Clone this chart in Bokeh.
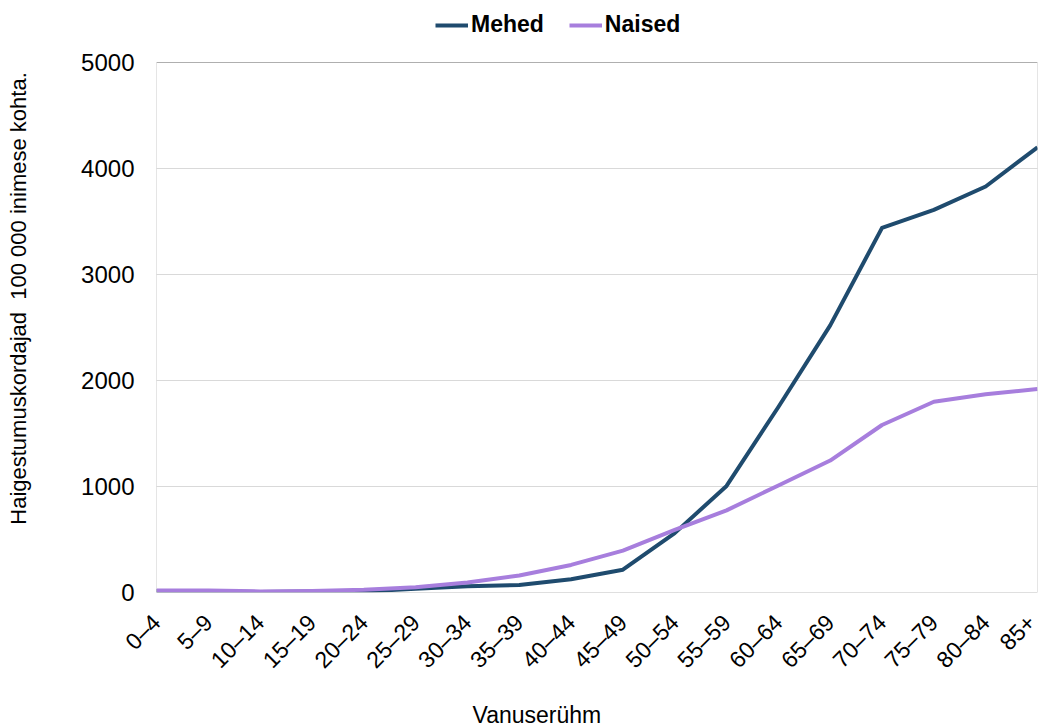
import math
from bokeh.plotting import figure
from bokeh.models import (Range1d, FixedTicker, Legend, LegendItem, Title,
                          BoxAnnotation, Span)
from bokeh.embed import file_html
from bokeh.resources import INLINE

categories = ["0–4", "5–9", "10–14", "15–19", "20–24", "25–29", "30–34", "35–39",
              "40–44", "45–49", "50–54", "55–59", "60–64", "65–69", "70–74",
              "75–79", "80–84", "85+"]
mehed = [15, 12, 5, 10, 10, 35, 60, 70, 125, 215, 560, 1005, 1750, 2520, 3440, 3610, 3830, 4200]
naised = [20, 18, 10, 15, 25, 50, 95, 160, 260, 395, 590, 775, 1010, 1245, 1580, 1800, 1870, 1920]
y_ticks = [0, 1000, 2000, 3000, 4000, 5000]
y_max = 5000

FONT = "Liberation Sans"
C_M = "#1F4B6E"
C_N = "#A77EDD"

xs = list(range(len(categories)))

W, H = 1040, 727
FL, FR, FT, FB = 156, 1037, 4, 592
AXIS_TOP = 62  # screen y of value y_max
y_top = y_max * (FB - FT) / (FB - AXIS_TOP)

p = figure(width=W, height=H, output_backend="svg", toolbar_location=None,
           x_range=Range1d(0, len(categories) - 1), y_range=Range1d(0, y_top),
           min_border_left=FL, min_border_right=W - FR, min_border_top=FT,
           min_border_bottom=H - FB)

r_m = p.line(xs, mehed, line_color=C_M, line_width=4, line_join="round")
r_n = p.line(xs, naised, line_color=C_N, line_width=4, line_join="round")

p.outline_line_color = None
p.background_fill_color = "white"
p.border_fill_color = "white"

p.xgrid.grid_line_color = None
p.ygrid.ticker = FixedTicker(ticks=y_ticks)
p.ygrid.grid_line_color = "#D9D9D9"
p.ygrid.grid_line_width = 1

# plot-area frame (0..y_max) and light zero line
p.add_layout(BoxAnnotation(left=0, right=len(categories) - 1, bottom=0, top=y_max,
                           fill_alpha=0, line_color="#505050", line_width=1))
p.add_layout(Span(location=0, dimension="width", line_color="#D9D9D9", line_width=1))

p.yaxis.ticker = FixedTicker(ticks=y_ticks)
p.yaxis.major_tick_line_color = None
p.yaxis.minor_tick_line_color = None
p.yaxis.axis_line_color = None
p.yaxis.major_label_text_font = FONT
p.yaxis.major_label_text_font_size = "24px"
p.yaxis.major_label_text_color = "black"
p.yaxis.major_label_standoff = 16
p.yaxis.axis_label = "Haigestumuskordajad\u00a0 100 000 inimese kohta."
p.yaxis.axis_label_text_font = FONT
p.yaxis.axis_label_text_font_size = "22px"
p.yaxis.axis_label_text_font_style = "normal"
p.yaxis.axis_label_text_color = "black"
p.yaxis.axis_label_standoff = 47

p.xaxis.ticker = FixedTicker(ticks=xs)
p.xaxis.major_label_overrides = {i: c for i, c in enumerate(categories)}
p.xaxis.major_tick_line_color = None
p.xaxis.minor_tick_line_color = None
p.xaxis.axis_line_color = None
p.xaxis.major_label_text_font = FONT
p.xaxis.major_label_text_font_size = "23px"
p.xaxis.major_label_text_color = "black"
p.xaxis.major_label_orientation = math.pi / 4
p.xaxis.major_label_standoff = 20
# invisible spacer label to push the title down
p.xaxis.axis_label = "\u00a0"
p.xaxis.axis_label_text_font_size = "2px"
p.xaxis.axis_label_standoff = 9

p.add_layout(Title(text="Vanuserühm", align="left", offset=316, standoff=0,
                   text_font=FONT, text_font_size="23px", text_font_style="normal",
                   text_color="black"), "below")

legend = Legend(items=[LegendItem(label="Mehed", renderers=[r_m]),
                       LegendItem(label="Naised", renderers=[r_n])],
                orientation="horizontal", location=(279, FB - 38),
                label_text_font=FONT, label_text_font_size="23px",
                label_text_font_style="bold", label_text_color="black",
                glyph_width=33, glyph_height=22, label_standoff=3, spacing=25,
                padding=6, margin=0, border_line_color=None,
                background_fill_alpha=0)
p.add_layout(legend)

open("out.html", "w").write(file_html(p, INLINE))
